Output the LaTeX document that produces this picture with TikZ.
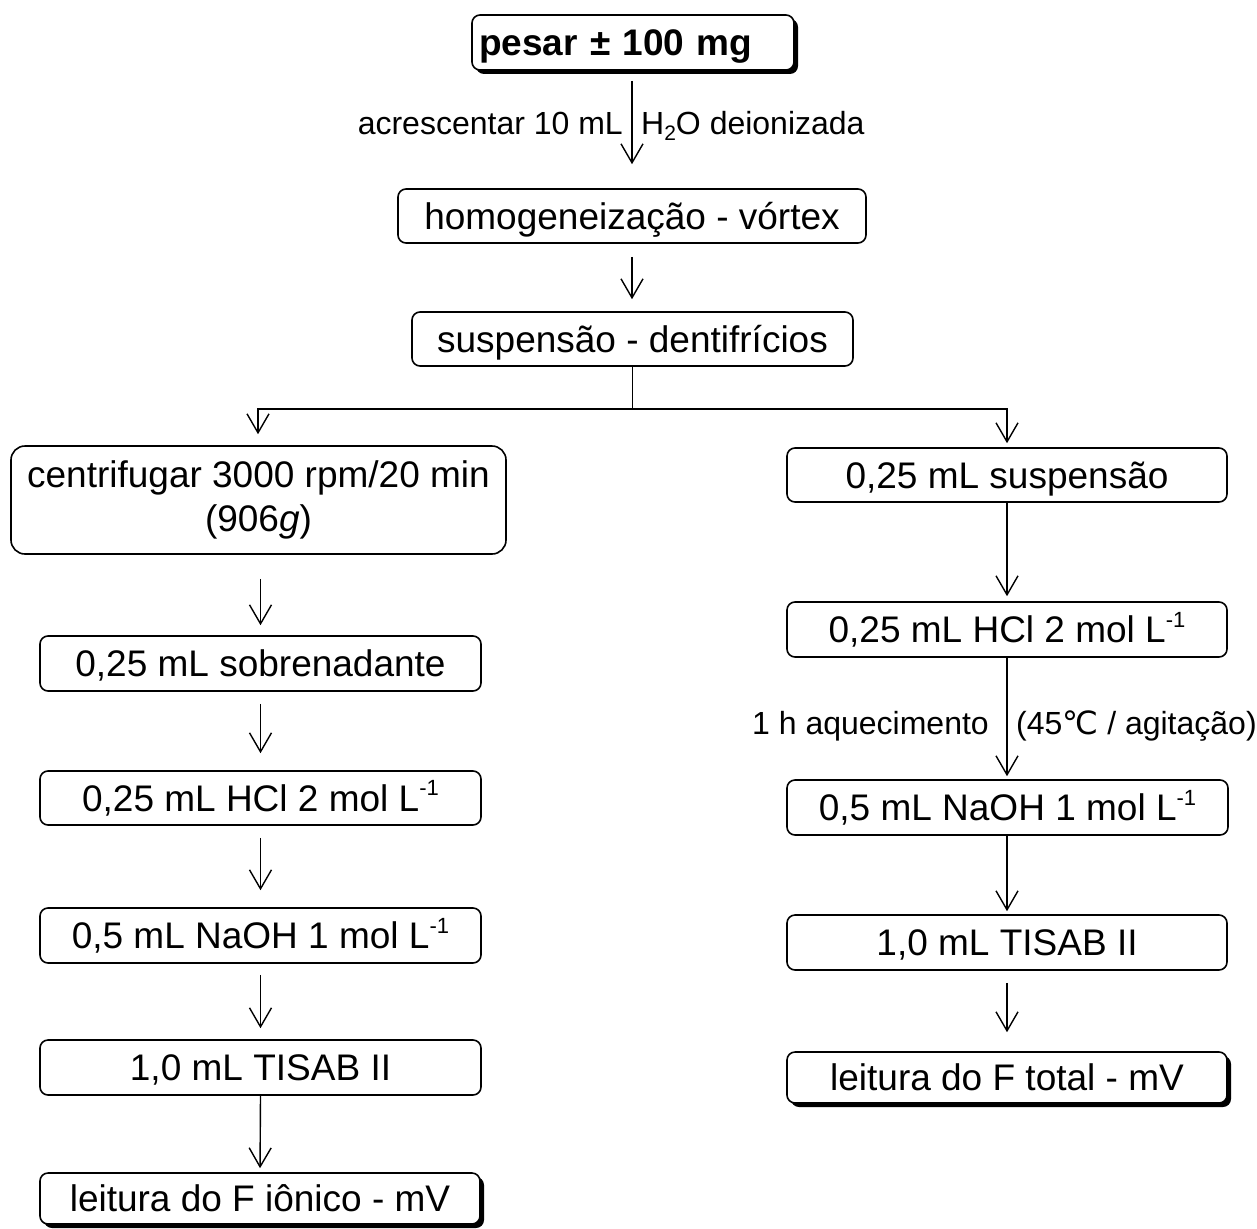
\documentclass[tikz,border=0pt]{standalone}
\usepackage{fontspec}
\setmainfont{Liberation Sans}
\newfontfamily\dejavu{DejaVu Sans}
\usetikzlibrary{arrows.meta,shadows}
\newcommand\supm[1]{\raisebox{0.42em}{\fontsize{22}{22}\selectfont #1}}
\newcommand\subm[1]{\raisebox{-0.2em}{\fontsize{21}{21}\selectfont #1}}
\begin{document}
\begin{tikzpicture}[x=1pt,y=-1pt,
  stepbox/.style={draw, line width=1.6pt, rounded corners=8pt, inner sep=0pt,
    minimum height=54pt, text height=26.5pt, text depth=0pt,
    font=\fontsize{37}{44}\selectfont},
  shadowed/.style={drop shadow={shadow xshift=4pt, shadow yshift=-4pt, opacity=1, fill=black}, fill=white},
  lbl/.style={inner sep=0pt, text height=23pt, text depth=0pt, font=\fontsize{32}{38}\selectfont},
  arr/.style={line width=1.4pt, -{Straight Barb[length=19pt,width=22pt,line width=1.4pt]}},
  con/.style={line width=1.4pt}]
\useasboundingbox (0,0) rectangle (1257,1228);

% top column
\node[stepbox, shadowed, minimum width=322pt, text width=308pt, align=left, inner xsep=7pt,
  font=\fontsize{37}{44}\selectfont\bfseries, minimum height=55pt] (pesar) at (633,42.5) {pesar ± 100 mg};
\node[stepbox, minimum width=468pt] (homog) at (632,216) {homogeneização - vórtex};
\node[stepbox, minimum width=441pt] (susp) at (632.5,339) {suspensão - dentifrícios};

% left column
\node[draw, line width=1.6pt, rounded corners=14pt, inner sep=0pt, minimum width=495pt,
  minimum height=108pt, align=center, font=\fontsize{37}{44}\selectfont] (centr) at (258.5,500)
  {centrifugar 3000 rpm/20 min\\(906\textit{g})};
\node[stepbox, minimum width=441pt, minimum height=55pt] (sob) at (260.5,663.5) {0,25 mL sobrenadante};
\node[stepbox, minimum width=441pt] (hclL) at (260.5,798) {0,25 mL HCl 2 mol L\supm{-1}};
\node[stepbox, minimum width=441pt, minimum height=55pt] (naohL) at (260.5,935.5) {0,5 mL NaOH 1 mol L\supm{-1}};
\node[stepbox, minimum width=441pt, minimum height=55pt] (tisL) at (260.5,1067.5) {1,0 mL TISAB II};
\node[stepbox, shadowed, minimum width=440pt, minimum height=51pt] (leiL) at (260,1198.5) {leitura do F iônico - mV};

% right column
\node[stepbox, minimum width=440pt] (suspR) at (1007,475) {0,25 mL suspensão};
\node[stepbox, minimum width=440pt, minimum height=55pt] (hclR) at (1007,629.5) {0,25 mL HCl 2 mol L\supm{-1}};
\node[stepbox, minimum width=441pt, minimum height=55pt] (naohR) at (1007.5,807.5) {0,5 mL NaOH 1 mol L\supm{-1}};
\node[stepbox, minimum width=440pt, minimum height=55pt] (tisR) at (1007,942.5) {1,0 mL TISAB II};
\node[stepbox, shadowed, minimum width=440pt, minimum height=51pt] (leiR) at (1007,1077.5) {leitura do F total - mV};

% labels
\node[lbl, anchor=east] (l1) at (623,123) {acrescentar 10 mL};
\node[lbl, anchor=west] (l2) at (641,123) {H\subm{2}O deionizada};
\node[lbl, anchor=east] (l3) at (989,723) {1 h aquecimento};
\node[lbl, anchor=west] (l4) at (1016,723) {(45{\dejavu ℃} / agitação)};

% connectors
\draw[arr, shorten <=10pt, shorten >=24pt] (pesar.south -| 632,0) -- (homog.north -| 632,0);
\draw[arr, shorten <=13pt, shorten >=12pt] (homog.south -| 632,0) -- (susp.north -| 632,0);
\draw[con] (susp.south) -- ++(0,42) coordinate (j);
\draw[arr, shorten >=11pt] (j) -| (centr.north -| 258,0);
\draw[arr, shorten >=4pt] (j) -| (suspR.north);

\draw[arr, shorten <=24pt, shorten >=10pt] (centr.south -| sob.north) -- (sob.north);
\draw[arr, shorten <=12pt, shorten >=17pt] (sob.south) -- (hclL.north);
\draw[arr, shorten <=12pt, shorten >=17pt] (hclL.south) -- (naohL.north);
\draw[arr, shorten <=11pt, shorten >=11pt] (naohL.south) -- (tisL.north);
\draw[arr, shorten >=4pt] (tisL.south) -- (leiL.north);

\draw[arr, shorten >=5pt] (suspR.south) -- (hclR.north);
\draw[arr, shorten >=3pt] (hclR.south) -- (naohR.north -| hclR.south);
\draw[arr, shorten >=3pt] (naohR.south -| tisR.north) -- (tisR.north);
\draw[arr, shorten <=12pt, shorten >=19pt] (tisR.south) -- (leiR.north);
\end{tikzpicture}
\end{document}
